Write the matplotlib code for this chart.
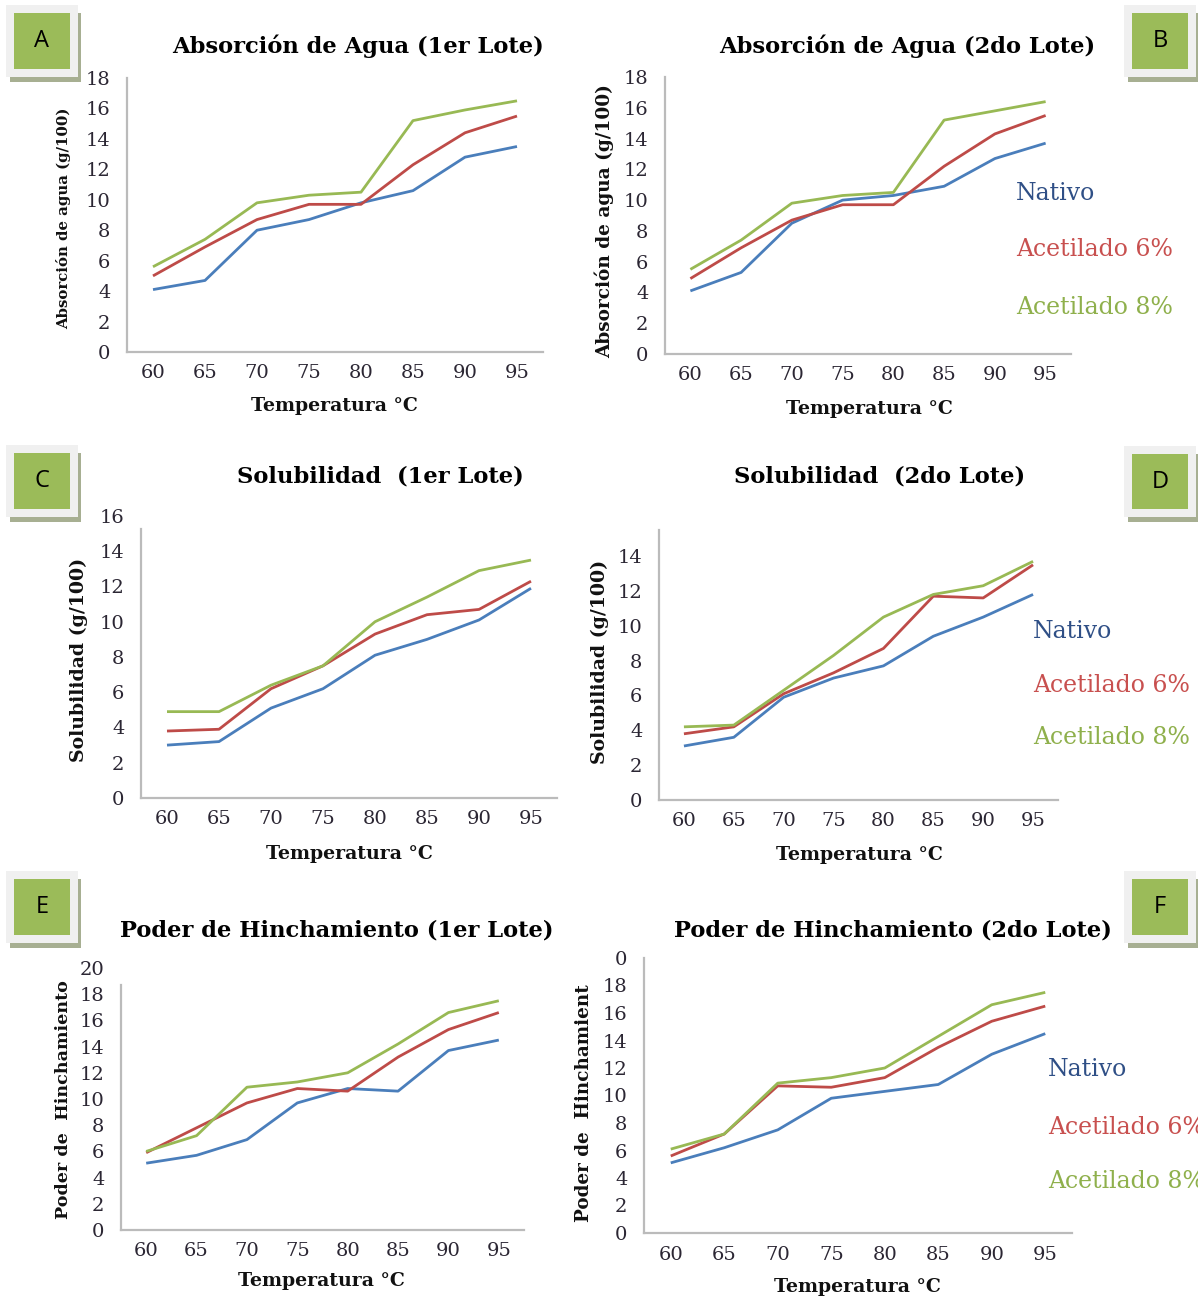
import numpy as np
import matplotlib
matplotlib.use("Agg")
from matplotlib import pyplot as plt
from matplotlib.patches import Rectangle

# temperatures (categories)
temps = [60, 65, 70, 75, 80, 85, 90, 95]
series_names = ['Nativo', 'Acetilado 6%', 'Acetilado 8%']

# A - Absorcion de agua, 1er lote
abs1_nativo = [4.1, 4.7, 8.0, 8.7, 9.8, 10.6, 12.8, 13.5]
abs1_ac6 = [5.0, 6.9, 8.7, 9.7, 9.7, 12.3, 14.4, 15.5]
abs1_ac8 = [5.6, 7.4, 9.8, 10.3, 10.5, 15.2, 15.9, 16.5]
# B - Absorcion de agua, 2do lote
abs2_nativo = [4.1, 5.3, 8.5, 10.0, 10.3, 10.9, 12.7, 13.7]
abs2_ac6 = [4.9, 6.9, 8.7, 9.7, 9.7, 12.2, 14.3, 15.5]
abs2_ac8 = [5.5, 7.4, 9.8, 10.3, 10.5, 15.2, 15.8, 16.4]
# C - Solubilidad, 1er lote
sol1_nativo = [3.0, 3.2, 5.1, 6.2, 8.1, 9.0, 10.1, 11.9]
sol1_ac6 = [3.8, 3.9, 6.2, 7.5, 9.3, 10.4, 10.7, 12.3]
sol1_ac8 = [4.9, 4.9, 6.4, 7.5, 10.0, 11.4, 12.9, 13.5]
# D - Solubilidad, 2do lote
sol2_nativo = [3.1, 3.6, 5.9, 7.0, 7.7, 9.4, 10.5, 11.8]
sol2_ac6 = [3.8, 4.2, 6.1, 7.3, 8.7, 11.7, 11.6, 13.5]
sol2_ac8 = [4.2, 4.3, 6.3, 8.3, 10.5, 11.8, 12.3, 13.7]
# E - Poder de hinchamiento, 1er lote
hin1_nativo = [5.1, 5.7, 6.9, 9.7, 10.8, 10.6, 13.7, 14.5]
hin1_ac6 = [5.9, 7.8, 9.7, 10.8, 10.6, 13.2, 15.3, 16.6]
hin1_ac8 = [6.0, 7.2, 10.9, 11.3, 12.0, 14.2, 16.6, 17.5]
# F - Poder de hinchamiento, 2do lote
hin2_nativo = [5.1, 6.2, 7.5, 9.8, 10.3, 10.8, 13.0, 14.5]
hin2_ac6 = [5.6, 7.2, 10.7, 10.6, 11.3, 13.5, 15.4, 16.5]
hin2_ac8 = [6.1, 7.2, 10.9, 11.3, 12.0, 14.3, 16.6, 17.5]

colors = ['#4A7EBB', '#BE4B48', '#98B954']
text_colors = ['#2F4F86', '#C8504F', '#8FB04C']

W, H = 1198, 1299
fig = plt.figure(figsize=(W / 100, H / 100), dpi=100)
fig.patch.set_facecolor('white')

serif = 'DejaVu Serif'


def ftext(x, y, s, **kw):
    fig.text(x / W, 1 - y / H, s, **kw)


def panel(box, ylim, yticks, ylabels, spine_top, data, title, tpos, xlpos,
          ylab, ylpos, ylsize, letter, lbox, legend=None):
    left, top, right, bottom = box
    ax = fig.add_axes([left / W, 1 - bottom / H, (right - left) / W, (bottom - top) / H])
    for vals, c in zip(data, colors):
        ax.plot(temps, vals, color=c, lw=2.0, solid_capstyle='butt')
    ax.set_xlim(57.5, 97.5)
    ax.set_ylim(*ylim)
    ax.set_xticks(temps)
    ax.set_xticklabels([str(t) for t in temps])
    ax.set_yticks(yticks)
    ax.set_yticklabels(ylabels)
    for s in ['top', 'right']:
        ax.spines[s].set_visible(False)
    for s in ['left', 'bottom']:
        ax.spines[s].set_color('#BBBBBB')
        ax.spines[s].set_linewidth(1.6)
    ax.spines['left'].set_bounds(0, spine_top)
    ax.tick_params(length=0, labelsize=14, labelcolor='#2B2633')
    ax.tick_params(axis='y', pad=12)
    ax.tick_params(axis='x', pad=9)
    for lab in ax.get_xticklabels() + ax.get_yticklabels():
        lab.set_family(serif)
    ax.set_facecolor('none')

    ftext(tpos[0], tpos[1], title, ha='center', va='center', family=serif,
          weight='bold', fontsize=16.3, color='black')
    ftext(xlpos[0], xlpos[1], 'Temperatura °C', ha='center', va='center',
          family=serif, weight='bold', fontsize=13.6, color='#111111')
    ftext(ylpos[0], ylpos[1], ylab, ha='center', va='center', rotation=90,
          family=serif, weight='bold', fontsize=ylsize, color='#111111')

    # letter box
    gx0, gy0, gx1, gy1 = lbox
    fig.patches.append(Rectangle(((gx0 - 4) / W, 1 - (gy1 + 13) / H), (gx1 - gx0 + 15) / W,
                                 (gy1 - gy0 + 13) / H, transform=fig.transFigure,
                                 facecolor='#A7AF92', edgecolor='none', zorder=0))
    fig.patches.append(Rectangle(((gx0 - 8) / W, 1 - (gy1 + 8) / H), (gx1 - gx0 + 16) / W,
                                 (gy1 - gy0 + 16) / H, transform=fig.transFigure,
                                 facecolor='#F0F0F0', edgecolor='none', zorder=1))
    fig.patches.append(Rectangle((gx0 / W, 1 - gy1 / H), (gx1 - gx0) / W,
                                 (gy1 - gy0) / H, transform=fig.transFigure,
                                 facecolor='#9BBB59', edgecolor='none', zorder=2))
    ftext((gx0 + gx1) / 2, (gy0 + gy1) / 2, letter, ha='center', va='center',
          family='Open Sans', fontsize=17, color='black')

    if legend is not None:
        lx, lys = legend
        for name, c, ly in zip(series_names, text_colors, lys):
            ftext(lx, ly, name, ha='left', va='center', family=serif,
                  fontsize=17, color=c)
    return ax


panel((127, 78, 543, 352), (0, 18), range(0, 19, 2), [str(v) for v in range(0, 19, 2)], 18,
      [abs1_nativo, abs1_ac6, abs1_ac8], 'Absorción de Agua (1er Lote)', (358, 46), (334, 406),
      'Absorción de agua (g/100)', (64, 218), 10.7, 'A', (14, 13, 70, 69))

panel((665, 77, 1071, 354), (0, 18), range(0, 19, 2), [str(v) for v in range(0, 19, 2)], 18,
      [abs2_nativo, abs2_ac6, abs2_ac8], 'Absorción de Agua (2do Lote)', (907, 46), (869, 409),
      'Absorción de agua (g/100)', (604, 221), 13.3, 'B', (1132, 13, 1188, 69),
      legend=(1016, [194, 250, 307]))

panel((141, 516, 557, 798), (0, 16), range(0, 17, 2), [str(v) for v in range(0, 17, 2)], 15.25,
      [sol1_nativo, sol1_ac6, sol1_ac8], 'Solubilidad  (1er Lote)', (380, 476), (349, 854),
      'Solubilidad (g/100)', (79, 660), 13.6, 'C', (14, 453, 70, 509))

panel((659, 530, 1058, 800), (0, 15.5), range(0, 15, 2), [str(v) for v in range(0, 15, 2)], 15.5,
      [sol2_nativo, sol2_ac6, sol2_ac8], 'Solubilidad  (2do Lote)', (880, 476), (859, 855),
      'Solubilidad (g/100)', (600, 662), 13.6, 'D', (1132, 454, 1188, 509),
      legend=(1033, [631, 685, 738]))

panel((121, 968, 524, 1230), (0, 20), range(0, 21, 2), [str(v) for v in range(0, 21, 2)], 18.7,
      [hin1_nativo, hin1_ac6, hin1_ac8], 'Poder de Hinchamiento (1er Lote)', (337, 930), (321, 1281),
      'Poder de  Hinchamiento', (64, 1100), 12.6, 'E', (14, 879, 70, 935))

panel((644, 958, 1072, 1233), (0, 20), range(0, 21, 2),
      [str(v) for v in range(0, 19, 2)] + ['0'], 20,
      [hin2_nativo, hin2_ac6, hin2_ac8], 'Poder de Hinchamiento (2do Lote)', (893, 930), (857, 1287),
      'Poder de  Hinchamient', (584, 1103), 13.2, 'F', (1132, 879, 1188, 935),
      legend=(1048, [1070, 1127, 1182]))

fig.savefig('out.png', dpi=100, facecolor='white')
